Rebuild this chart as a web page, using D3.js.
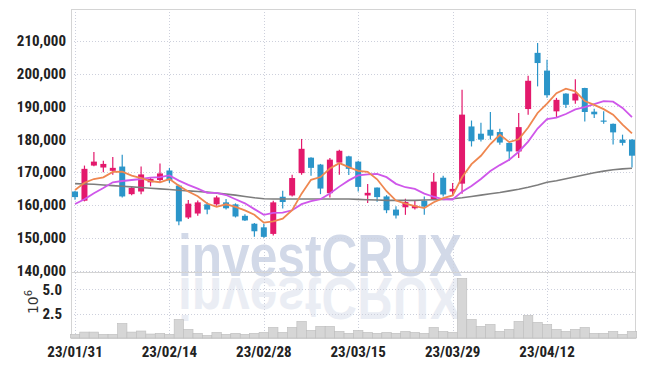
<!DOCTYPE html>
<html><head><meta charset="utf-8">
<script src="https://cdn.jsdelivr.net/npm/d3@7/dist/d3.min.js"></script>
<style>body{margin:0;background:#fff}svg{display:block}</style>
</head><body><svg id="c" width="645" height="366"></svg>
<script>
const dates = ["23/01/31","23/02/01","23/02/02","23/02/03","23/02/06","23/02/07","23/02/08","23/02/09","23/02/10","23/02/13",
"23/02/14","23/02/15","23/02/16","23/02/17","23/02/20","23/02/21","23/02/22","23/02/23","23/02/24","23/02/27",
"23/02/28","23/03/02","23/03/03","23/03/06","23/03/07","23/03/08","23/03/09","23/03/10","23/03/13","23/03/14",
"23/03/15","23/03/16","23/03/17","23/03/20","23/03/21","23/03/22","23/03/23","23/03/24","23/03/27","23/03/28",
"23/03/29","23/03/30","23/03/31","23/04/03","23/04/04","23/04/05","23/04/06","23/04/07","23/04/10","23/04/11",
"23/04/12","23/04/13","23/04/14","23/04/17","23/04/18","23/04/19","23/04/20","23/04/21","23/04/24","23/04/25"];
const open = [164100,161300,172000,171400,170400,171700,163300,164100,166900,167600,
170500,165900,156200,157400,160200,160200,160800,160200,156700,154300,
153200,151200,162500,162900,169700,174400,172300,163600,172900,174800,
173200,162900,165300,162600,158600,159300,159000,161300,161800,168300,
164100,166500,183900,181700,182900,182200,178900,176300,189200,206300,
200900,188500,193900,191800,195600,188400,185700,184700,179900,179900];
const high = [164300,172000,176100,173500,174600,175300,165700,171700,168400,172600,
171300,166200,161500,161400,160800,162800,161800,160500,157200,154500,
154300,161300,164300,169200,180100,174500,172500,174300,176800,175000,
173500,166400,165300,163000,159600,161900,161300,162600,169700,168900,
166700,195100,185700,185000,188300,183200,179000,188000,199300,209300,
204200,192600,194000,198300,195700,189300,188500,184800,181400,180000];
const low = [161600,161100,171800,170000,169200,162300,163000,163300,165700,166900,
166700,153800,155700,156700,157200,159800,158600,156200,155100,150300,
150000,150700,158900,162600,169200,168900,163300,162300,169200,169100,
164100,160600,161000,157500,155900,157000,158600,157000,161600,162600,
162800,163400,177800,179300,179900,178300,173500,174300,187500,196100,
192600,186500,189500,190800,185400,186500,184700,178400,178100,171400];
const close = [162400,171000,173200,172500,171300,162600,165200,169300,167900,169600,
167500,155000,160400,160800,158600,162300,159000,156500,155300,152000,
150300,160800,160900,168200,177100,171300,165000,173800,176500,171000,
165500,163700,162400,158400,156800,160900,159800,159500,167100,163200,
164900,187500,179400,179900,181100,179000,176300,183700,197800,203200,
193400,192000,190500,193900,188300,187600,185500,182100,178900,175000];
const volume = [0.38,0.61,0.61,0.38,0.38,1.5,0.61,0.72,0.41,0.48,
0.38,1.91,0.89,0.48,0.27,0.58,0.38,0.48,0.38,0.48,
0.58,1.09,0.58,1.09,1.71,0.79,1.2,1.2,0.68,0.48,
0.79,0.58,0.48,0.58,0.48,0.68,0.58,0.48,1.09,0.68,
0.58,6.12,1.91,1.2,1.4,0.68,0.89,1.71,2.32,1.61,
1.4,0.89,0.68,0.89,1.09,0.48,0.48,0.68,0.38,0.68];
const ma5 = [164560,166780,167910,168430,170080,170120,168960,168180,167260,166920,
167900,165860,164080,162660,160460,159420,160220,159440,158340,157020,
154620,154980,155860,158440,163460,167660,168500,171080,172740,171520,
170360,170100,167820,164200,161360,160440,159660,159080,160820,162100,
162900,168440,172420,174980,178560,181380,179140,180000,183580,188000,
190880,194020,195380,194600,191620,190460,189160,187480,184480,181820];
const ma10 = [160300,161730,163560,165170,166920,167300,167600,167910,168300,168500,
169010,167410,166130,164960,163690,163660,163040,161760,160500,158740,
157020,157600,157650,158390,160240,161140,161740,163470,165590,167490,
169010,169300,169450,168470,166440,165400,164880,163450,162510,161730,
161670,164050,165750,167900,170330,172140,173790,176210,179280,183280,
186130,186580,187690,189090,189810,190670,191590,191430,189540,186720];
const ma60 = [166500,166400,166300,166100,165900,165700,165500,165300,165100,164900,
164700,164500,164300,164100,163900,163600,163300,163000,162600,162200,
161900,161800,161800,161800,161800,161800,161800,161800,161800,161800,
161700,161600,161500,161400,161400,161400,161400,161500,161600,161700,
161900,162200,162600,163000,163400,163800,164300,164800,165400,166100,
166900,167400,168000,168600,169200,169800,170300,170700,171000,171200];
const priceTicks = [140000,150000,160000,170000,180000,190000,200000,210000];
const volumeTicks = [2.5,5.0];
const dateTicks = ["23/01/31","23/02/14","23/02/28","23/03/15","23/03/29","23/04/12"];

const svg = d3.select("#c");
const L = 71, R = 635, T = 9, PB = 272, VB = 338;
const FONT = "'Liberation Sans Narrow','Arial Narrow','Roboto Condensed',sans-serif";
const UP = "#e3196c", DOWN = "#2b95c9", GRID = "#cdd0dc";

const x = d3.scaleBand().domain(dates).range([70.3, 636.7]).padding(0);
const cx = d => x(d) + x.bandwidth() / 2;
const yP = d3.scaleLinear().domain([140000, 210000]).range([270.7, 40.7]);
const yV = d3.scaleLinear().domain([0, 5]).range([VB, 289.4]);

// watermark + mirrored reflection (reuse of the same text element)
const defs = svg.append("defs");
const wm = svg.append("g");
wm.append("text").attr("id", "wm").attr("x", 178).attr("y", 276).attr("textLength", 284).attr("lengthAdjust", "spacingAndGlyphs")
  .attr("font-family", "'Liberation Sans',Arial,sans-serif").attr("font-weight", "bold").attr("font-size", 60)
  .attr("fill", "#d2d9e8").text("investCRUX");
wm.append("use").attr("href", "#wm").attr("transform", "translate(0,554) scale(1,-1)").attr("opacity", 0.45);

// grid lines
const grid = svg.append("g").attr("stroke", GRID).attr("stroke-width", 1).attr("stroke-dasharray", "1,2");
grid.selectAll(".hp").data(priceTicks).join("line").attr("class", "hp")
  .attr("x1", L).attr("x2", R).attr("y1", d => Math.round(yP(d)) + 0.5).attr("y2", d => Math.round(yP(d)) + 0.5);
grid.selectAll(".hv").data(volumeTicks).join("line").attr("class", "hv")
  .attr("x1", L).attr("x2", R).attr("y1", d => Math.round(yV(d)) + 0.5).attr("y2", d => Math.round(yV(d)) + 0.5);
grid.selectAll(".vx").data(dateTicks).join("line").attr("class", "vx")
  .attr("x1", d => Math.round(cx(d)) + 0.5).attr("x2", d => Math.round(cx(d)) + 0.5).attr("y1", T).attr("y2", VB);

// frame
const fr = svg.append("g").attr("stroke", "#d4d4d4").attr("fill", "none");
fr.append("rect").attr("x", L + 0.5).attr("y", T + 0.5).attr("width", R - L).attr("height", VB - T);
fr.append("line").attr("x1", L).attr("x2", R).attr("y1", PB + 0.5).attr("y2", PB + 0.5);

// volume bars
svg.append("g").selectAll("rect").data(dates).join("rect")
  .attr("x", d => x(d)).attr("width", x.bandwidth())
  .attr("y", (d, i) => yV(volume[i])).attr("height", (d, i) => VB - yV(volume[i]))
  .attr("fill", "#d6d6d6").attr("stroke", "#bdbdbd").attr("stroke-width", 0.6);

// candles
const cg = svg.append("g");
const col = i => close[i] >= open[i] ? UP : DOWN;
cg.selectAll("line").data(dates).join("line")
  .attr("x1", d => cx(d)).attr("x2", d => cx(d))
  .attr("y1", (d, i) => yP(high[i])).attr("y2", (d, i) => yP(low[i]))
  .attr("stroke", (d, i) => col(i)).attr("stroke-width", 1.2);
cg.selectAll("rect").data(dates).join("rect")
  .attr("x", d => cx(d) - 3).attr("width", 6)
  .attr("y", (d, i) => yP(Math.max(open[i], close[i])))
  .attr("height", (d, i) => Math.max(1.2, Math.abs(yP(open[i]) - yP(close[i]))))
  .attr("fill", (d, i) => col(i));

// moving averages
const lineGen = arr => d3.line().x((d) => cx(d)).y((d, i) => yP(arr[i])).curve(d3.curveLinear)(dates);
svg.append("path").attr("d", lineGen(ma60)).attr("fill", "none").attr("stroke", "#7d7d7d").attr("stroke-width", 1.6);
svg.append("path").attr("d", lineGen(ma10)).attr("fill", "none").attr("stroke", "#cf57ea").attr("stroke-width", 1.8);
svg.append("path").attr("d", lineGen(ma5)).attr("fill", "none").attr("stroke", "#ef8750").attr("stroke-width", 1.8);

// axes
const ax = svg.append("g").attr("transform", `translate(${L},0)`)
  .call(d3.axisLeft(yP).tickValues(priceTicks).tickFormat(d3.format(",")).tickSize(0).tickPadding(5));
ax.select(".domain").remove();
ax.selectAll("text").attr("font-family", FONT).attr("font-weight", "bold").attr("font-size", 15).attr("fill", "#222");

const av = svg.append("g").attr("transform", `translate(${L},0)`)
  .call(d3.axisLeft(yV).tickValues(volumeTicks).tickFormat(d3.format(".1f")).tickSize(0).tickPadding(9));
av.select(".domain").remove();
av.selectAll("text").attr("font-family", FONT).attr("font-weight", "bold").attr("font-size", 15).attr("fill", "#222");

const axx = svg.append("g").attr("transform", `translate(0,${VB})`)
  .call(d3.axisBottom(x).tickValues(dateTicks).tickSize(0).tickPadding(8));
axx.select(".domain").remove();
axx.selectAll("text").attr("font-family", FONT).attr("font-weight", "bold").attr("font-size", 15).attr("fill", "#222");

const ut = svg.append("text").attr("transform", "translate(38,302) rotate(-90)").attr("text-anchor", "middle")
  .attr("font-family", "'DejaVu Sans',sans-serif").attr("font-size", 14).attr("fill", "#333");
ut.append("tspan").text("10");
ut.append("tspan").attr("dy", -6).attr("font-size", 10).text("6");
</script></body></html>
